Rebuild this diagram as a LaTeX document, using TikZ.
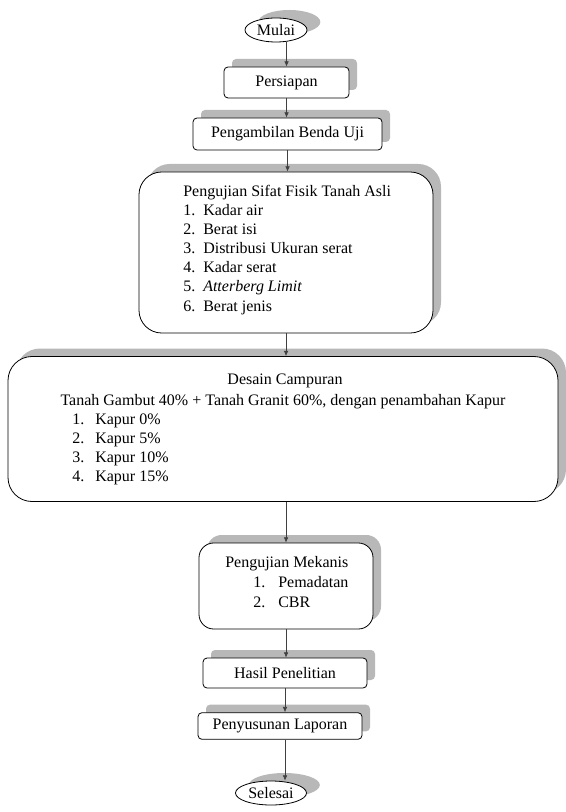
\documentclass[tikz,border=0pt]{standalone}
\usepackage{fontspec}
\setmainfont{Liberation Serif}
\usepackage{tikz}
\usetikzlibrary{shapes,arrows,positioning,calc,shadows,arrows.meta}

\tikzset{
  bayang/.style={drop shadow={shadow xshift=6pt, shadow yshift=6pt, fill=black!28, opacity=1}},
  kotak/.style={draw, line width=0.6pt, fill=white, bayang, inner sep=0pt, font=\fontsize{12}{14}\selectfont},
  bulat/.style={ellipse, draw, line width=0.6pt, fill=white, inner sep=0pt, font=\fontsize{12}{14}\selectfont,
    drop shadow={shadow xshift=10pt, shadow yshift=6pt, fill=black!28, opacity=1}},
  teks/.style={anchor=base west, inner sep=0pt, font=\fontsize{12}{14}\selectfont},
  panah/.style={draw=black!75, line width=0.5pt, -{Latex[length=4pt,width=3.5pt]}}
}

\begin{document}
\begin{tikzpicture}[x=0.75pt,y=-0.75pt]
    % Frame
    \useasboundingbox (0,0) rectangle (565,812);

    % Start
    \node[bulat, minimum width=46.5pt, minimum height=18pt] (mulai) at (276,30) {Mulai};

    % Steps
    \node[kotak, rounded corners=3pt, minimum width=93.75pt, minimum height=23.25pt] (persiapan) at (286.5,82.5) {Persiapan};
    \node[kotak, rounded corners=3pt, minimum width=141.75pt, minimum height=24pt] (pengambilan) at (287.5,134) {Pengambilan Benda Uji};

    % Physical tests
    \node[kotak, rounded corners=17pt, minimum width=220.5pt, minimum height=120.75pt] (sifat) at (286,252.5) {};
    \node[teks] (sifatjudul) at (183,197) {Pengujian Sifat Fisik Tanah Asli};
    \foreach \isi [count=\i] in {Kadar air, Berat isi, Distribusi Ukuran serat, Kadar serat, \textit{Atterberg Limit}, Berat jenis} {
        \node[teks] (sifatno\i) at (183,197+19*\i) {\i.};
        \node[teks] (sifat\i) at (203,197+19*\i) {\isi};
    }

    % Mix design
    \node[kotak, rounded corners=18pt, minimum width=412.5pt, minimum height=108.75pt] (desain) at (283,429) {};
    \node[teks, anchor=base] (desainjudul) at (285,384) {Desain Campuran};
    \node[teks, anchor=base] (desainisi) at (283,405) {Tanah Gambut 40\% + Tanah Granit 60\%, dengan penambahan Kapur};
    \foreach \isi [count=\i] in {0\%, 5\%, 10\%, 15\%} {
        \node[teks] (desainno\i) at (72,405+19*\i) {\i.};
        \node[teks] (kapur\i) at (95,405+19*\i) {Kapur \isi};
    }

    % Mechanical tests
    \node[kotak, rounded corners=11pt, minimum width=130.5pt, minimum height=64.5pt] (mekanis) at (286,586) {};
    \node[teks] (mekanisjudul) at (225,567) {Pengujian Mekanis};
    \foreach \isi [count=\i] in {Pemadatan, CBR} {
        \node[teks] (mekanisno\i) at (253,567+20*\i) {\i.};
        \node[teks] (mekanis\i) at (278,567+20*\i) {\isi};
    }

    % Results
    \node[kotak, rounded corners=3pt, minimum width=123pt, minimum height=22.5pt] (hasil) at (285,673) {Hasil Penelitian};
    \node[kotak, rounded corners=3pt, minimum width=123pt, minimum height=20pt] (laporan) at (280,726) {Penyusunan Laporan};

    % End
    \node[bulat, minimum width=53.25pt, minimum height=18pt] (selesai) at (271,793) {Selesai};

    % Arrows
    \draw[panah] (mulai.south -| persiapan.north) -- (persiapan.north);
    \draw[panah] (persiapan.south) -- (persiapan.south |- pengambilan.north);
    \draw[panah] (pengambilan.south) -- (pengambilan.south |- sifat.north);
    \draw[panah] (sifat.south) -- (sifat.south |- desain.north);
    \draw[panah] (mekanis.north |- desain.south) -- (mekanis.north);
    \draw[panah] (mekanis.south) -- (mekanis.south |- hasil.north);
    \draw[panah] (hasil.south) -- (hasil.south |- laporan.north);
    \draw[panah] (hasil.south |- laporan.south) -- (hasil.south |- selesai.north);

\end{tikzpicture}
\end{document}
